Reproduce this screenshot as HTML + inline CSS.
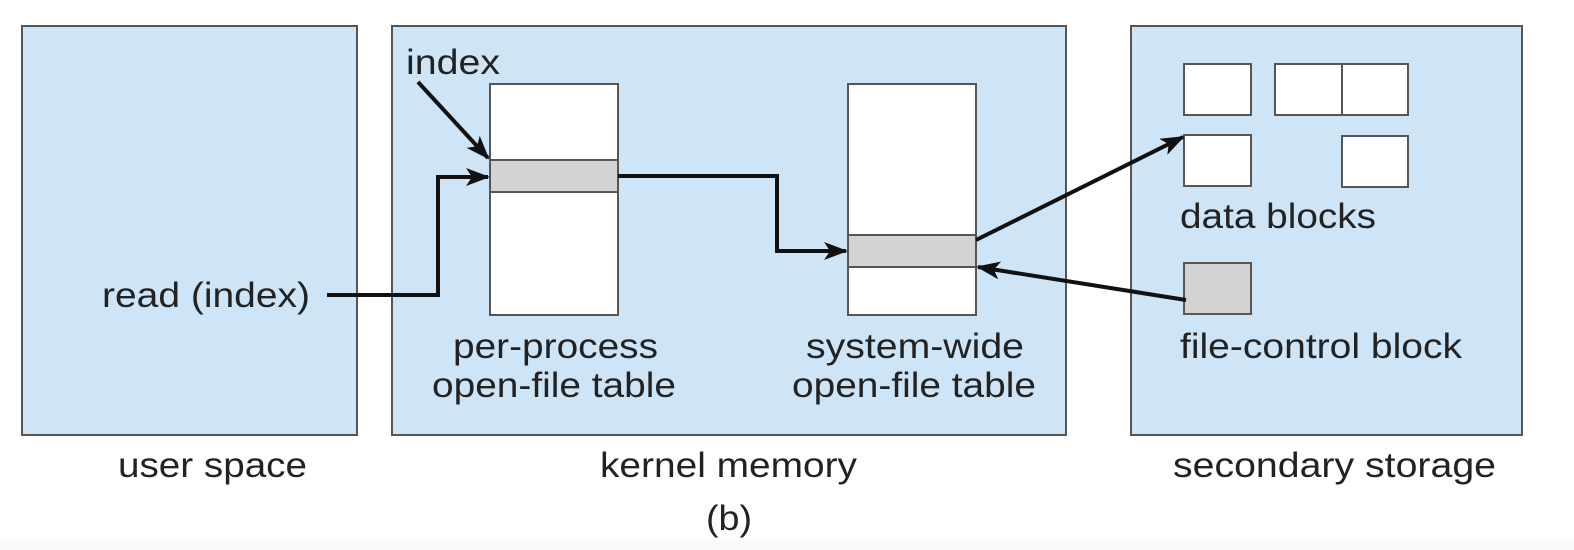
<!DOCTYPE html>
<html><head><meta charset="utf-8"><style>
html,body{margin:0;padding:0;background:#fff;}
svg{display:block;}
text{font-family:"Liberation Sans",Arial,sans-serif;font-size:35px;fill:#222;}
</style></head><body>
<svg width="1574" height="550" viewBox="0 0 1574 550" xmlns="http://www.w3.org/2000/svg">
<defs>
<marker id="ah2" markerWidth="24" markerHeight="18" refX="22" refY="9" orient="auto" markerUnits="userSpaceOnUse">
<path d="M0,0 L24,9 L0,18 L6,9 z" fill="#111"/>
</marker>
</defs>
<rect x="0" y="0" width="1574" height="550" fill="#fff"/>
<rect x="0" y="540" width="1574" height="10" fill="#fafafa"/>
<g fill="#cde5f6" stroke="#555" stroke-width="2">
<rect x="22" y="26" width="335" height="409"/>
<rect x="392" y="26" width="674" height="409"/>
<rect x="1131" y="26" width="391" height="409"/>
</g>
<g stroke="#555" stroke-width="2">
<rect x="490" y="84" width="128" height="231" fill="#fff"/>
<rect x="490" y="160" width="128" height="32" fill="#d3d3d3"/>
<rect x="848" y="84" width="128" height="231" fill="#fff"/>
<rect x="848" y="235" width="128" height="32" fill="#d3d3d3"/>
<rect x="1184" y="64" width="67" height="51" fill="#fff"/>
<rect x="1275" y="64" width="67" height="51" fill="#fff"/>
<rect x="1342" y="64" width="66" height="51" fill="#fff"/>
<rect x="1184" y="135" width="67" height="51" fill="#fff"/>
<rect x="1342" y="136" width="66" height="51" fill="#fff"/>
<rect x="1184" y="263" width="67" height="51" fill="#d3d3d3"/>
</g>
<g fill="none" stroke="#111" stroke-width="4">
<path d="M327,295 H438 V177 H488" marker-end="url(#ah2)"/>
<path d="M418,82 L488,158" marker-end="url(#ah2)"/>
<path d="M618,176 H777 V251 H846" marker-end="url(#ah2)"/>
<path d="M976,240 L1183,137" marker-end="url(#ah2)"/>
<path d="M1186,300 L978,267" marker-end="url(#ah2)"/>
</g>
<text x="406" y="74" textLength="94" lengthAdjust="spacingAndGlyphs">index</text>
<text x="102" y="307" textLength="208" lengthAdjust="spacingAndGlyphs">read (index)</text>
<text x="453" y="358" textLength="205" lengthAdjust="spacingAndGlyphs">per-process</text>
<text x="432" y="397" textLength="244" lengthAdjust="spacingAndGlyphs">open-file table</text>
<text x="806" y="358" textLength="218" lengthAdjust="spacingAndGlyphs">system-wide</text>
<text x="792" y="397" textLength="244" lengthAdjust="spacingAndGlyphs">open-file table</text>
<text x="1180" y="228" textLength="196" lengthAdjust="spacingAndGlyphs">data blocks</text>
<text x="1180" y="358" textLength="282" lengthAdjust="spacingAndGlyphs">file-control block</text>
<text x="118" y="477" textLength="189" lengthAdjust="spacingAndGlyphs">user space</text>
<text x="600" y="477" textLength="257" lengthAdjust="spacingAndGlyphs">kernel memory</text>
<text x="1173" y="477" textLength="323" lengthAdjust="spacingAndGlyphs">secondary storage</text>
<text x="706" y="530" textLength="46" lengthAdjust="spacingAndGlyphs">(b)</text>
</svg>
</body></html>
